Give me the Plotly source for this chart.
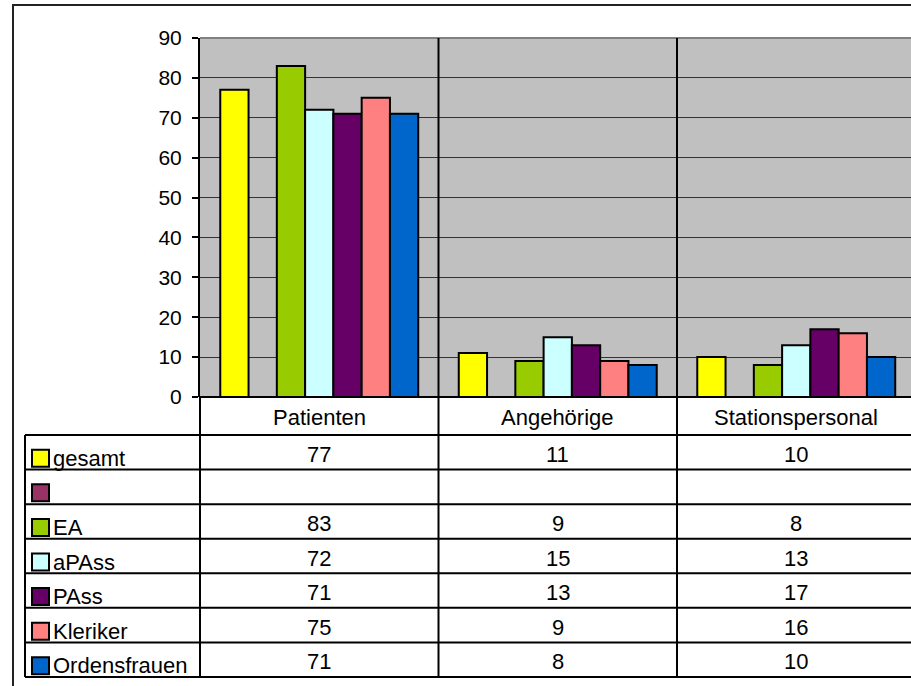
import plotly.graph_objects as go

categories = ["Patienten", "Angehörige", "Stationspersonal"]
series_names = ["gesamt", "", "EA", "aPAss", "PAss", "Kleriker", "Ordensfrauen"]
gesamt = [77, 11, 10]
leer = [None, None, None]
ea = [83, 9, 8]
apass = [72, 15, 13]
pass_ = [71, 13, 17]
kleriker = [75, 9, 16]
ordensfrauen = [71, 8, 10]
series_values = [gesamt, leer, ea, apass, pass_, kleriker, ordensfrauen]
colors = ["#FFFF00", "#993366", "#99CC00", "#CCFFFF", "#660066", "#FF8080", "#0066CC"]

W, H = 911, 686
FONT = "Liberation Sans, Arial, sans-serif"
FS = 22


def fx(p):
    return p / W


def fy(p):
    return 1 - p / H


# pixel layout of the Excel-ish chart
plot_left, plot_top, plot_bottom = 200, 38, 397
cat_w = 238.5
x_hi = -0.5 + (W - plot_left) / cat_w
head_bottom = 435
row_h = (677 - head_bottom) / 7
table_left = 25

fig = go.Figure()
xs = list(range(len(categories)))
for name, vals, col in zip(series_names, series_values, colors):
    fig.add_trace(go.Bar(
        x=xs, y=vals, name=name, marker_color=col,
        marker_line=dict(color="black", width=2),
        showlegend=False,
    ))

shapes = []
line = dict(color="black", width=2)
# outer chart border
shapes.append(dict(type="rect", xref="paper", yref="paper",
                   x0=fx(13), y0=fy(H + 10), x1=fx(W + 10), y1=fy(5),
                   line=dict(color="#222222", width=2)))
# grey plot-area border on top
shapes.append(dict(type="line", xref="paper", yref="paper",
                   x0=fx(plot_left), x1=1, y0=fy(plot_top), y1=fy(plot_top),
                   line=dict(color="#808080", width=2)))
# category separators through plot and table
for i in range(len(categories) - 1):
    shapes.append(dict(type="line", xref="x", yref="paper",
                       x0=i + 0.5, x1=i + 0.5, y0=fy(677), y1=fy(plot_top),
                       line=line))
shapes.append(dict(type="line", xref="paper", yref="paper",
                   x0=fx(plot_left), x1=fx(plot_left), y0=fy(677), y1=fy(plot_bottom),
                   line=line))
shapes.append(dict(type="line", xref="paper", yref="paper",
                   x0=fx(table_left), x1=fx(table_left), y0=fy(677), y1=fy(head_bottom),
                   line=line))
# horizontal table rules
for k in range(len(series_names) + 1):
    yy = head_bottom + k * row_h
    shapes.append(dict(type="line", xref="paper", yref="paper",
                       x0=fx(table_left), x1=1, y0=fy(yy), y1=fy(yy), line=line))
shapes.append(dict(type="line", xref="paper", yref="paper",
                   x0=fx(plot_left), x1=1, y0=fy(plot_bottom), y1=fy(plot_bottom), line=line))

txt = dict(family=FONT, size=FS, color="black")
annotations = []
for i, cat in enumerate(categories):
    annotations.append(dict(x=i, xref="x", y=fy((plot_bottom + head_bottom) / 2 + 1), yref="paper",
                            text=cat, showarrow=False, xanchor="center", yanchor="middle", font=txt))

for k, (name, vals, col) in enumerate(zip(series_names, series_values, colors)):
    rc = head_bottom + (k + 0.5) * row_h
    # legend key
    shapes.append(dict(type="rect", xref="paper", yref="paper",
                       x0=fx(32), x1=fx(49), y0=fy(rc + 14.5), y1=fy(rc - 2.5),
                       fillcolor=col, line=dict(color="black", width=2)))
    if name:
        annotations.append(dict(x=fx(51), xref="paper", y=fy(rc + 6), yref="paper",
                                text=name, showarrow=False, xanchor="left", yanchor="middle",
                                font=txt))
    for i, v in enumerate(vals):
        if v is None:
            continue
        annotations.append(dict(x=i, xref="x", y=fy(rc + 2), yref="paper",
                                text=str(v), showarrow=False, xanchor="center",
                                yanchor="middle", font=txt))

fig.update_layout(
    width=W, height=H,
    margin=dict(l=0, r=0, t=0, b=0, pad=0),
    paper_bgcolor="white",
    plot_bgcolor="#C0C0C0",
    barmode="group",
    bargap=0.17,
    bargroupgap=0,
    shapes=shapes,
    annotations=annotations,
    xaxis=dict(domain=[fx(plot_left), 1], range=[-0.5, x_hi], automargin=False,
               showticklabels=False, showgrid=False, zeroline=False, ticks=""),
    yaxis=dict(domain=[fy(plot_bottom), fy(plot_top)], range=[0, 90], dtick=10,
               automargin=False,
               showgrid=True, gridcolor="#333333", gridwidth=1,
               showline=True, linecolor="black", linewidth=2,
               ticks="outside", ticklen=6, tickcolor="black", tickwidth=1.5,
               ticklabelstandoff=6, zeroline=False,
               tickfont=dict(family=FONT, size=21, color="black")),
)

fig.write_html("out.html", config={"displayModeBar": False},
               post_script="document.body.style.margin = '0px';")
